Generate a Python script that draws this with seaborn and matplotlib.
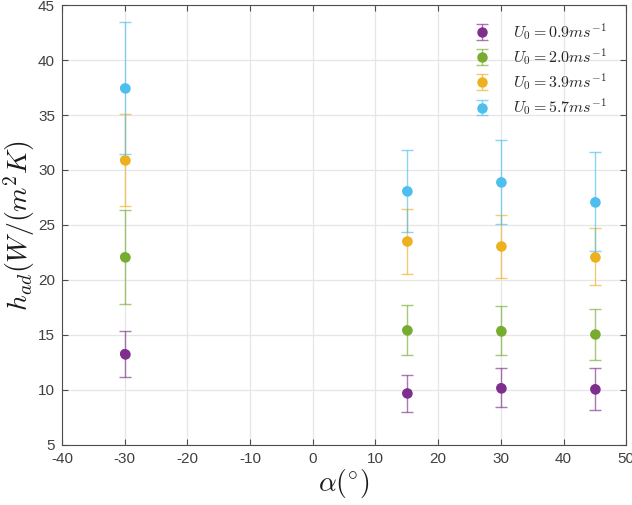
import numpy as np
import pandas as pd
import matplotlib
matplotlib.use("Agg")
import matplotlib.pyplot as plt
import seaborn as sns

alpha_deg = [-30, 15, 30, 45]
series_labels = [r"$U_0 = 0.9ms^{-1}$", r"$U_0 = 2.0ms^{-1}$",
                 r"$U_0 = 3.9ms^{-1}$", r"$U_0 = 5.7ms^{-1}$"]
h_u09 = [13.3, 9.7, 10.2, 10.1]
h_u20 = [22.1, 15.45, 15.4, 15.05]
h_u39 = [30.9, 23.5, 23.05, 22.1]
h_u57 = [37.45, 28.1, 28.9, 27.1]
err_u09 = [2.1, 1.7, 1.75, 1.9]
err_u20 = [4.25, 2.25, 2.25, 2.35]
err_u39 = [4.15, 2.95, 2.85, 2.6]
err_u57 = [6.0, 3.7, 3.8, 4.5]
colors = ["#7E2F8E", "#77AC30", "#EDB120", "#4DBEEE"]
x_ticks = [-40, -30, -20, -10, 0, 10, 20, 30, 40, 50]
y_ticks = [5, 10, 15, 20, 25, 30, 35, 40, 45]

vals = [h_u09, h_u20, h_u39, h_u57]
errs = [err_u09, err_u20, err_u39, err_u57]
rows = []
for lab, v, e in zip(series_labels, vals, errs):
    for a, vi, ei in zip(alpha_deg, v, e):
        rows.append({"alpha": a, "h": vi, "err": ei, "series": lab})
df = pd.DataFrame(rows)

sns.set_style("whitegrid")
plt.rcParams["font.family"] = ["Liberation Sans", "DejaVu Sans"]
plt.rcParams["mathtext.fontset"] = "cm"

fig = plt.figure(figsize=(6.32, 5.05), dpi=100)
ax = fig.add_axes([0.098, 0.119, 0.893, 0.871])

handles = []
for lab, col in zip(series_labels, colors):
    d = df[df["series"] == lab]
    eb = ax.errorbar(d["alpha"], d["h"], yerr=d["err"], fmt="o", color=col,
                     ecolor=matplotlib.colors.to_rgba(col, 0.65), elinewidth=1.0,
                     capsize=4, capthick=1.0, markersize=6.5, label=lab, zorder=3)
    handles.append(eb)

sns.scatterplot(data=df, x="alpha", y="h", hue="series", palette=colors,
                s=45, edgecolor="none", legend=False, ax=ax, zorder=4)

ax.set_xlim(-40, 50)
ax.set_ylim(5, 45)
ax.set_xticks(x_ticks)
ax.set_yticks(y_ticks)
ax.set_xticklabels([str(t) for t in x_ticks])
ax.set_yticklabels([str(t) for t in y_ticks])
ax.tick_params(direction="in", length=4, width=0.8, colors="#4d4d4d",
               labelsize=11, top=True, right=True, bottom=True, left=True,
               labelcolor="#404040", pad=5)
ax.grid(True, color="#e6e6e6", linewidth=0.9)
for s in ax.spines.values():
    s.set_visible(True)
    s.set_color("#4d4d4d")
    s.set_linewidth(0.8)

ax.set_xlabel(r"$\alpha(^{\circ})$", fontsize=20, labelpad=1, color="#1a1a1a")
ax.set_ylabel(r"$h_{ad}(W/(m^2K)$", fontsize=20, color="#1a1a1a")
ax.yaxis.set_label_coords(-0.045, 0.5)

leg = ax.legend(handles=handles, labels=series_labels, loc="upper right",
                bbox_to_anchor=(0.99, 0.995), frameon=False, fontsize=11.5,
                handlelength=1.2, handletextpad=1.3, labelspacing=0.25)

fig.savefig("out.png", dpi=100)
